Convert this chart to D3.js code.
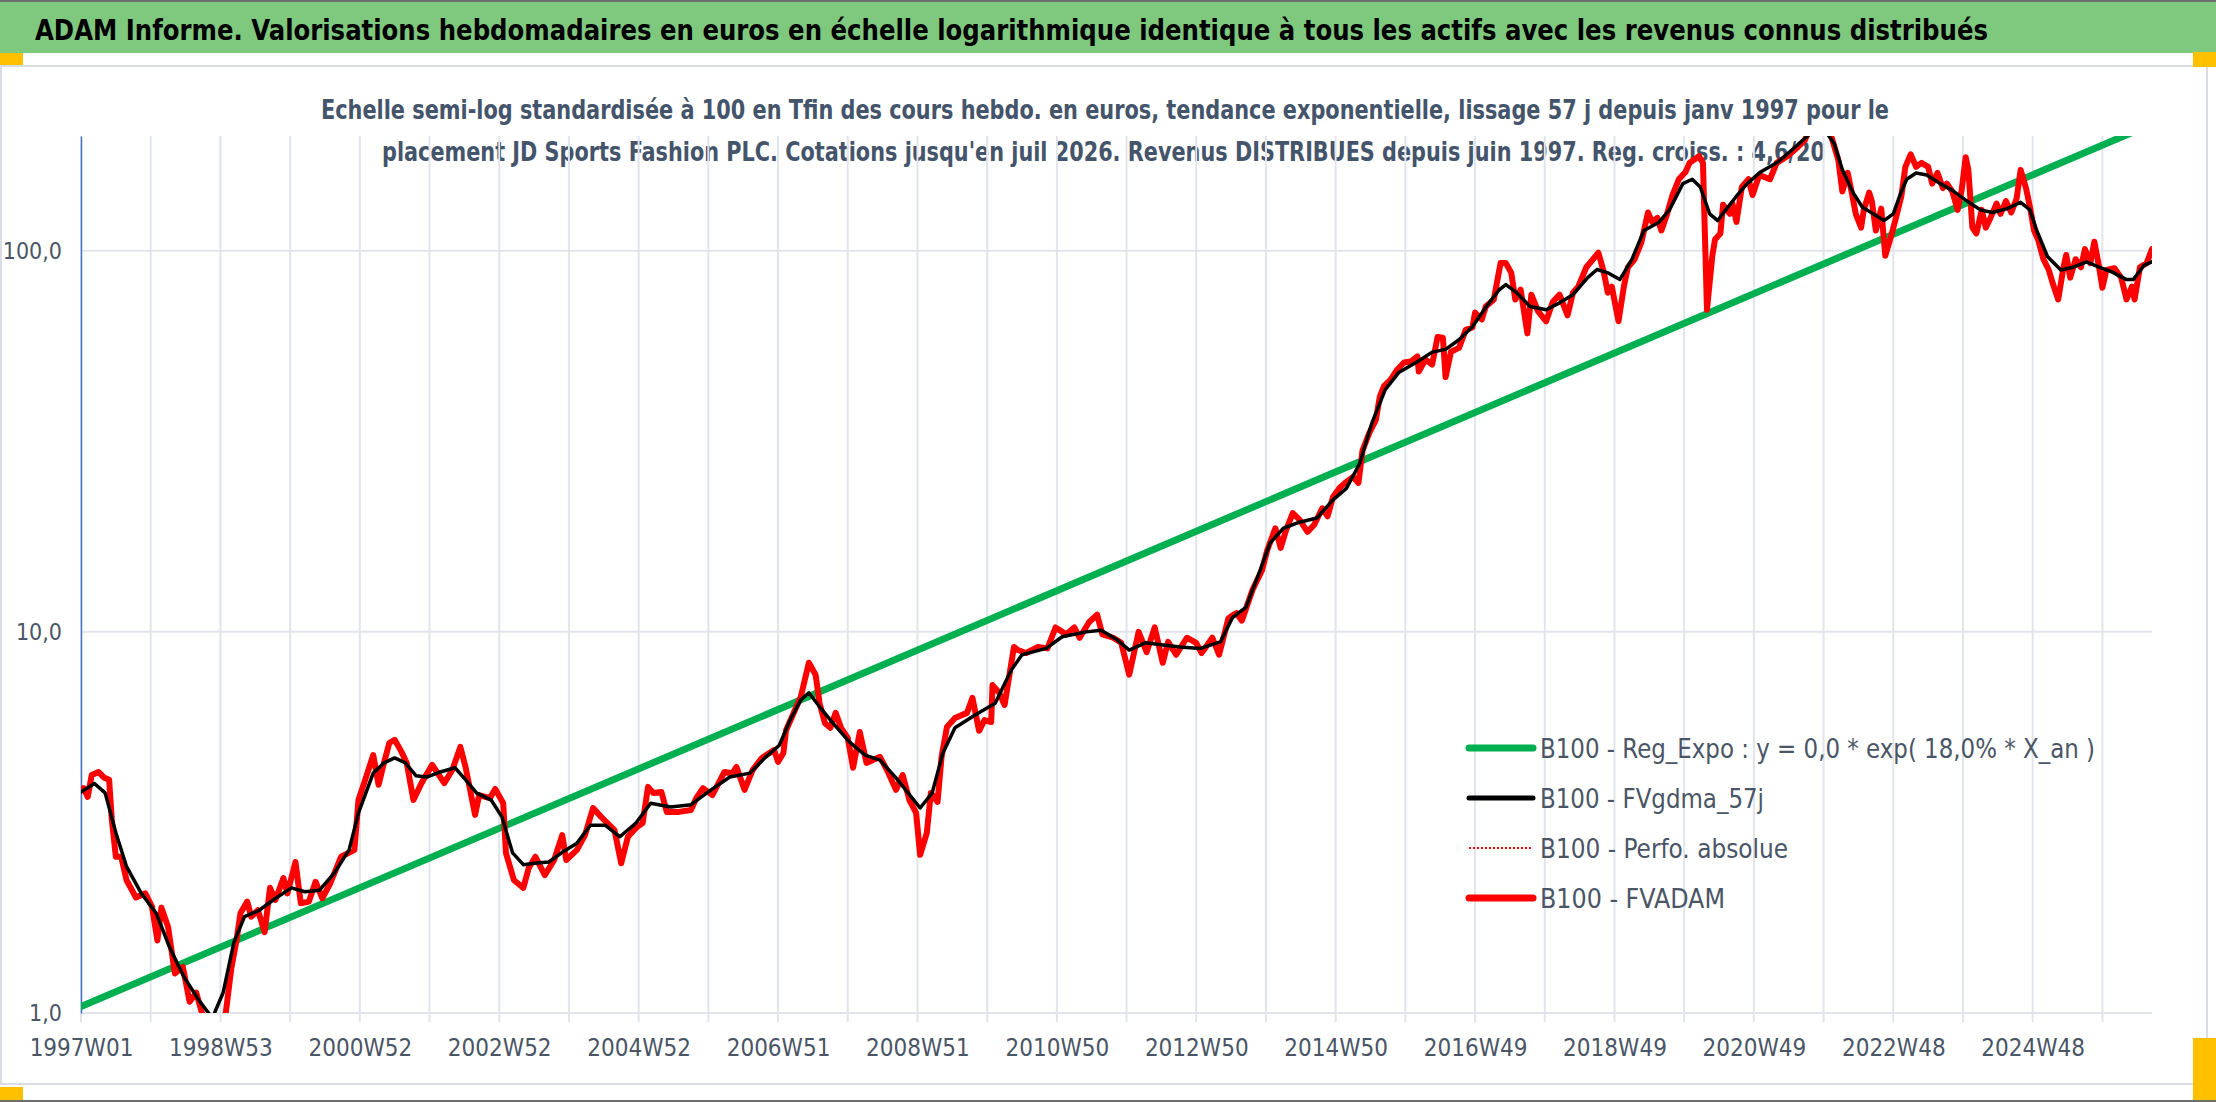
<!DOCTYPE html>
<html>
<head>
<meta charset="utf-8">
<script src="https://cdn.jsdelivr.net/npm/d3@7"></script>
<style>
  body { margin: 0; background: #fff; }
  svg { display: block; }
</style>
</head>
<body>
<div id="chart"></div>
<script>
// week index 0 = 1997W01, one point per reading
var lastWeek = 1545;

var xTickLabels = ["1997W01", "1998W53", "2000W52", "2002W52", "2004W52", "2006W51", "2008W51",
    "2010W50", "2012W50", "2014W50", "2016W49", "2018W49", "2020W49", "2022W48", "2024W48"];
var yTickValues = [1, 10, 100];
var yTickLabels = ["1,0", "10,0", "100,0"];

var legendLabels = [
    "B100 - Reg_Expo : y = 0,0 * exp( 18,0% *  X_an )",
    "B100 - FVgdma_57j",
    "B100 - Perfo. absolue",
    "B100 - FVADAM"
];

// green exponential trend (two ends)
var regExpo = [[0, 1.04], [1545, 215]];

// black smoothed series
var fvgdma = [[0,3.8],[10,4.0],[18,3.78],[26,2.97],[34,2.42],[45,2.06],[56,1.83],[66,1.49],[77,1.24],[88,1.08],
    [98,0.97],[106,1.13],[114,1.53],[122,1.79],[133,1.86],[146,2.01],[157,2.13],[167,2.08],[178,2.10],[189,2.33],
    [200,2.68],[207,3.35],[218,4.26],[226,4.53],[234,4.67],[242,4.53],[250,4.19],[258,4.16],[268,4.29],[279,4.40],
    [287,4.09],[295,3.78],[306,3.62],[314,3.27],[322,2.63],[330,2.45],[338,2.47],[349,2.49],[359,2.64],[370,2.79],
    [380,3.11],[391,3.11],[402,2.90],[414,3.15],[425,3.55],[440,3.47],[455,3.52],[470,3.85],[484,4.16],[499,4.26],
    [511,4.70],[521,5.04],[529,5.87],[537,6.63],[543,6.92],[551,6.36],[561,5.76],[573,5.15],[585,4.75],[596,4.61],
    [608,4.14],[617,3.78],[626,3.45],[635,3.78],[643,4.81],[652,5.60],[667,6.05],[682,6.50],[694,7.94],[702,8.71],
    [720,9.05],[732,9.71],[750,10.0],[761,10.1],[773,9.53],[782,8.96],[794,9.36],[809,9.22],[820,9.13],[835,9.05],
    [850,9.41],[859,10.9],[869,11.6],[879,14.3],[887,17.1],[897,18.7],[909,19.4],[922,19.9],[934,22.2],[944,23.8],
    [954,27.7],[963,35.3],[973,43.2],[983,47.9],[996,50.9],[1008,54.2],[1018,55.1],[1028,58.4],[1038,63.2],[1048,71.0],
    [1058,79.0],[1063,81.5],[1071,77.6],[1081,71.4],[1093,70.0],[1103,73.0],[1113,76.7],[1124,85.0],[1131,89.3],[1139,87.5],
    [1148,84.0],[1157,94.9],[1166,113],[1177,118.6],[1185,128],[1195,150],[1202,154],[1208,147],[1215,125],[1221,120],
    [1227,128],[1235,139],[1243,150],[1253,161],[1266,171],[1278,186],[1288,200],[1298,214],[1308,191],[1314,163],
    [1322,142],[1329,130],[1337,125],[1345,120],[1352,125],[1357,140],[1362,154],[1369,160],[1377,158],[1387,150],
    [1396,144],[1407,135],[1417,128],[1426,126],[1437,129],[1447,134],[1454,128],[1459,113],[1467,96.6],[1477,89],
    [1486,90.5],[1496,93.5],[1506,90.5],[1515,88],[1526,84],[1531,84],[1539,91.5],[1545,93.5]];

// red weekly valuation
var fvadam = [[0,3.85],[2,3.89],[5,3.69],[8,4.21],[13,4.29],[17,4.15],[21,4.09],[23,3.21],[26,2.57],[30,2.57],
    [34,2.23],[41,2.01],[48,2.06],[53,1.90],[57,1.55],[60,1.89],[65,1.68],[70,1.27],[76,1.32],[81,1.07],
    [86,1.13],[92,0.95],[97,0.84],[102,0.82],[108,1.0],[112,1.30],[116,1.55],[119,1.83],[124,1.96],[127,1.79],
    [132,1.86],[137,1.63],[141,2.13],[145,1.98],[151,2.26],[154,2.06],[160,2.49],[164,1.94],[170,1.96],[175,2.21],
    [180,2.00],[186,2.19],[194,2.57],[204,2.68],[207,3.62],[212,4.09],[218,4.75],[222,3.97],[226,4.53],[230,5.11],
    [234,5.21],[239,4.85],[243,4.53],[248,3.62],[254,4.01],[262,4.48],[271,4.01],[277,4.34],[283,4.99],[287,4.40],
    [294,3.31],[297,3.73],[305,3.66],[309,3.87],[315,3.55],[317,2.63],[323,2.23],[330,2.13],[334,2.40],[339,2.57],
    [346,2.30],[353,2.52],[359,2.93],[362,2.52],[370,2.68],[376,2.93],[382,3.45],[388,3.27],[398,3.02],[403,2.47],
    [408,2.90],[415,3.08],[419,3.15],[423,3.92],[427,3.78],[433,3.80],[437,3.37],[446,3.37],[455,3.41],[459,3.66],
    [464,3.89],[471,3.73],[480,4.29],[486,4.26],[489,4.42],[495,3.85],[501,4.34],[508,4.67],[517,4.90],[520,4.56],
    [524,4.81],[526,5.52],[531,6.05],[537,6.76],[543,8.30],[548,7.72],[551,6.50],[555,5.76],[559,5.60],[563,6.13],
    [567,5.60],[572,5.27],[576,4.40],[581,5.46],[586,4.53],[596,4.70],[602,4.29],[608,3.85],[613,4.21],[618,3.62],
    [623,3.35],[626,2.60],[631,2.97],[634,3.78],[639,3.58],[642,4.70],[646,5.63],[652,5.94],[661,6.13],[665,6.71],
    [670,5.50],[674,5.87],[679,5.80],[680,7.25],[685,6.92],[689,6.43],[696,9.13],[699,8.96],[705,8.80],[714,9.13],
    [721,9.05],[727,10.27],[735,9.85],[741,10.27],[745,9.65],[752,10.6],[758,11.1],[762,9.85],[770,9.65],[776,9.36],
    [782,7.72],[789,10.0],[795,8.85],[801,10.27],[807,8.30],[811,9.41],[817,8.71],[825,9.65],[832,9.36],[836,8.80],
    [844,9.65],[849,8.71],[856,10.85],[858,10.98],[862,11.2],[866,10.7],[874,12.9],[881,14.5],[885,16.4],[891,18.7],
    [895,16.6],[899,18.5],[904,20.5],[909,19.7],[915,18.3],[920,19.1],[926,21.1],[930,20.1],[934,22.6],[939,23.9],
    [943,24.6],[949,25.5],[953,24.6],[956,29.9],[961,33.2],[966,36.0],[969,41.5],[972,44.1],[977,45.9],[982,48.8],
    [987,50.9],[992,51.2],[997,52.8],[998,48.2],[1003,51.8],[1008,50.3],[1012,59.4],[1016,59.1],[1018,46.6],[1022,54.3],
    [1028,55.6],[1033,62.0],[1038,62.9],[1040,68.8],[1045,66.0],[1048,71.4],[1054,74.5],[1059,92.8],[1063,92.8],[1067,87.5],
    [1070,74.5],[1074,79.0],[1079,60.7],[1082,76.7],[1087,69.3],[1093,65.3],[1098,73.5],[1103,76.7],[1109,67.7],[1113,77.6],
    [1117,80.5],[1123,90.5],[1132,98.8],[1136,88.0],[1139,77.6],[1142,80.5],[1147,65.3],[1151,80.5],[1154,90.5],[1159,95.0],
    [1164,105],[1169,126],[1172,119],[1176,122],[1179,113],[1183,124],[1187,139],[1192,154],[1197,161],[1200,170],
    [1207,177],[1210,170],[1213,70],[1217,97],[1219,107],[1223,111],[1225,132],[1230,125],[1232,133],[1235,119],
    [1239,147],[1244,154],[1247,140],[1252,158],[1260,154],[1265,170],[1273,177],[1280,186],[1286,195],[1292,218],
    [1299,232],[1306,198],[1311,173],[1314,143],[1318,160],[1321,142],[1324,125],[1328,115],[1330,128],[1334,142],
    [1336,135],[1339,113],[1343,129],[1346,97],[1350,108],[1354,122],[1358,139],[1361,166],[1365,179],[1369,166],
    [1373,170],[1378,166],[1381,150],[1385,160],[1389,146],[1392,150],[1396,143],[1400,128],[1403,144],[1406,176],
    [1408,163],[1411,115],[1414,111],[1418,128],[1421,115],[1425,123],[1429,133],[1432,125],[1436,135],[1440,126],
    [1444,137],[1447,163],[1451,146],[1454,130],[1457,113],[1460,107],[1464,95],[1468,89],[1471,82],[1475,74.5],
    [1479,90.5],[1481,97.5],[1484,85],[1488,95],[1492,90.5],[1495,101],[1499,92.8],[1502,105.6],[1505,92.8],[1508,80],
    [1511,89],[1517,90],[1522,85],[1526,74.5],[1530,80.5],[1532,74.5],[1536,90.5],[1541,92.8],[1545,101]];

var svgWidth = 2216;
var svgHeight = 1102;
var plot = { left: 81, right: 2152, top: 136, bottom: 1013 };
var fontFamily = "'Liberation Sans Narrow', 'DejaVu Sans Condensed', 'Open Sans', sans-serif";
var textColor = "#4a5566";

var svg = d3.select("#chart")
    .append("svg")
    .attr("width", svgWidth)
    .attr("height", svgHeight)
    .style("font-family", fontFamily);

// frame: green title band, orange corner marks, chart box
svg.append("rect").attr("x", 0).attr("y", 0).attr("width", svgWidth).attr("height", 2).attr("fill", "#6e6e6e");
svg.append("rect").attr("x", 0).attr("y", 2).attr("width", svgWidth).attr("height", 51).attr("fill", "#7fc97f");
svg.append("rect").attr("x", 1).attr("y", 66).attr("width", 2206).attr("height", 1018)
    .attr("fill", "#fff").attr("stroke", "#d9dde3").attr("stroke-width", 2);
svg.append("rect").attr("x", 0).attr("y", 1100).attr("width", svgWidth).attr("height", 2).attr("fill", "#6e6e6e");
[[0, 53, 23, 12], [2193, 52, 23, 15], [2193, 1038, 23, 62], [0, 1087, 23, 13]].forEach(function(r) {
    svg.append("rect").attr("x", r[0]).attr("y", r[1]).attr("width", r[2]).attr("height", r[3]).attr("fill", "#ffc000");
});

svg.append("text")
    .attr("x", 35).attr("y", 40)
    .attr("font-size", 29).attr("font-weight", "bold").attr("fill", "#000")
    .attr("textLength", 1953).attr("lengthAdjust", "spacingAndGlyphs")
    .text("ADAM Informe. Valorisations hebdomadaires en euros en échelle logarithmique identique à tous les actifs avec les revenus connus distribués");

svg.append("text")
    .attr("x", 321).attr("y", 119)
    .attr("font-size", 27).attr("font-weight", "bold").attr("fill", "#44546a")
    .attr("textLength", 1568).attr("lengthAdjust", "spacingAndGlyphs")
    .text("Echelle semi-log standardisée à 100 en Tfin des cours hebdo. en euros, tendance exponentielle, lissage 57 j depuis janv 1997 pour le");
svg.append("text")
    .attr("x", 382).attr("y", 161)
    .attr("font-size", 27).attr("font-weight", "bold").attr("fill", "#44546a")
    .attr("textLength", 1443).attr("lengthAdjust", "spacingAndGlyphs")
    .text("placement JD Sports Fashion PLC. Cotations jusqu'en juil 2026. Revenus DISTRIBUES depuis juin 1997. Reg. croiss. : 4,6/20");

var xScale = d3.scaleLinear()
    .domain([0, lastWeek])
    .range([plot.left, plot.right]);

var yScale = d3.scaleLog()
    .domain([1, 200])
    .range([plot.bottom, plot.top]);

// gridlines: one vertical per 52 weeks, horizontal per decade
var gridWeeks = d3.range(0, lastWeek, 52);
svg.append("g").selectAll("line")
    .data(gridWeeks)
    .enter()
    .append("line")
    .attr("x1", d => xScale(d)).attr("x2", d => xScale(d))
    .attr("y1", plot.top).attr("y2", plot.bottom + 9)
    .attr("stroke", "#e1e5eb").attr("stroke-width", 2);

svg.append("g").selectAll("line")
    .data(yTickValues)
    .enter()
    .append("line")
    .attr("x1", plot.left).attr("x2", plot.right)
    .attr("y1", d => yScale(d)).attr("y2", d => yScale(d))
    .attr("stroke", "#e1e5eb").attr("stroke-width", 2);

var xAxis = d3.axisBottom(xScale)
    .tickValues(xTickLabels.map((d, i) => i * 104))
    .tickFormat((d, i) => xTickLabels[i])
    .tickSize(0)
    .tickPadding(26);

var xAxisG = svg.append("g")
    .attr("transform", `translate(0, ${plot.bottom})`)
    .call(xAxis);
xAxisG.select(".domain").remove();
xAxisG.selectAll("text")
    .attr("font-family", fontFamily)
    .attr("font-size", 24)
    .attr("fill", textColor);

var yAxis = d3.axisLeft(yScale)
    .tickValues(yTickValues)
    .tickFormat((d, i) => yTickLabels[i])
    .tickSize(0)
    .tickPadding(19);

var yAxisG = svg.append("g")
    .attr("transform", `translate(${plot.left}, 0)`)
    .call(yAxis);
yAxisG.select(".domain").attr("stroke", "#4472c4").attr("stroke-width", 1.5);
yAxisG.selectAll("text")
    .attr("font-family", fontFamily)
    .attr("font-size", 23)
    .attr("fill", textColor);

svg.append("clipPath")
    .attr("id", "plotClip")
    .append("rect")
    .attr("x", plot.left).attr("y", plot.top)
    .attr("width", plot.right - plot.left)
    .attr("height", plot.bottom - plot.top);

var line = d3.line()
    .x(d => xScale(d[0]))
    .y(d => yScale(d[1]));

var series = [
    { data: regExpo, color: "#00b050", width: 7, dash: null },
    { data: fvadam, color: "#ff0000", width: 2, dash: "2,3" },
    { data: fvadam, color: "#ff0000", width: 6, dash: null },
    { data: fvgdma, color: "#000000", width: 3.5, dash: null }
];

var linesGroup = svg.append("g").attr("clip-path", "url(#plotClip)");
series.forEach(function(s) {
    linesGroup.append("path")
        .datum(s.data)
        .attr("d", line)
        .attr("fill", "none")
        .attr("stroke", s.color)
        .attr("stroke-width", s.width)
        .attr("stroke-dasharray", s.dash)
        .attr("stroke-linejoin", "round")
        .attr("stroke-linecap", "round");
});

// legend, in the series order of the original
var legendStyles = [
    { color: "#00b050", width: 7, dash: null },
    { color: "#000000", width: 5, dash: null },
    { color: "#ff0000", width: 2, dash: "2,2" },
    { color: "#ff0000", width: 7, dash: null }
];
var legendWidths = [555, 224, 248, 185];

var legend = svg.append("g");
legendLabels.forEach(function(label, i) {
    var yPos = 748 + i * 50;
    legend.append("line")
        .attr("x1", 1469).attr("x2", 1533)
        .attr("y1", yPos).attr("y2", yPos)
        .attr("stroke", legendStyles[i].color)
        .attr("stroke-width", legendStyles[i].width)
        .attr("stroke-dasharray", legendStyles[i].dash)
        .attr("stroke-linecap", legendStyles[i].dash ? "butt" : "round");
    legend.append("text")
        .attr("x", 1540).attr("y", yPos + 10)
        .attr("font-size", 27)
        .attr("fill", textColor)
        .attr("textLength", legendWidths[i]).attr("lengthAdjust", "spacingAndGlyphs")
        .text(label);
});
</script>
</body>
</html>
